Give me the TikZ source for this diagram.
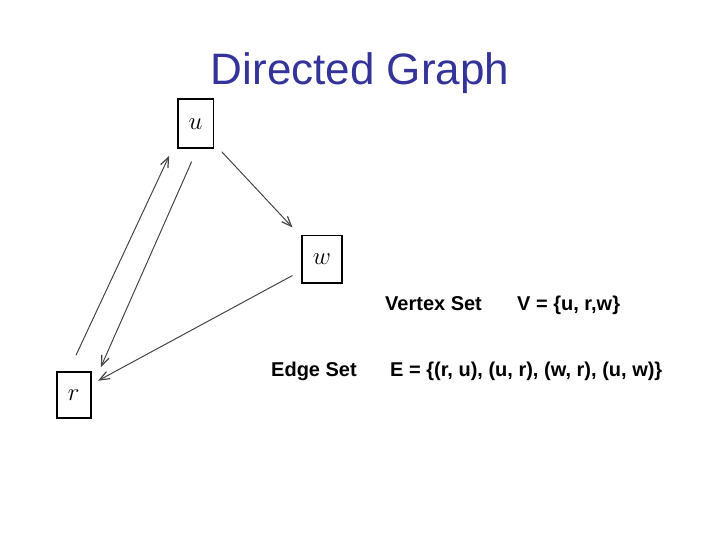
\documentclass[tikz,border=0pt]{standalone}
\usepackage{fontspec}
\setmainfont{Liberation Sans}
\usetikzlibrary{arrows.meta}
\definecolor{titleblue}{RGB}{51,51,153}
\definecolor{edgegray}{RGB}{70,70,70}
\tikzset{
  vbox/.style={draw=black, line width=1.6pt, inner sep=0pt, font=\fontsize{24}{24}\selectfont},
  arr/.style={draw=edgegray, line width=1pt, -{Straight Barb[length=10pt,width=8pt,line width=1.2pt]}},
  lbl/.style={anchor=base west, inner sep=0pt, font=\fontsize{20}{24}\selectfont\bfseries}
}
\begin{document}
\begin{tikzpicture}[x=1pt,y=1pt]
\useasboundingbox (0,0) rectangle (720,540);
\node[anchor=base, inner sep=0pt, text=titleblue, font=\fontsize{44}{50}\selectfont] (title) at (360,455) {Directed Graph};
\node[vbox, minimum width=35.6pt, minimum height=49pt] (u) at (195.5,416.2) {$u$};
\node[vbox, minimum width=40pt, minimum height=47.6pt] (w) at (322,280.5) {$w$};
\node[vbox, minimum width=34pt, minimum height=46pt] (r) at (73.7,144.7) {$r$};
\draw[arr] ([shift={(2.3pt,16.3pt)}]r.north) -- ([shift={(-7.7pt,-6.7pt)}]u.south west);
\draw[arr] ([shift={(-3.8pt,-12.4pt)}]u.south) -- ([shift={(9.3pt,4.3pt)}]r.north east);
\draw[arr] ([shift={(7.7pt,-2.7pt)}]u.south east) -- ([shift={(-8.7pt,7.4pt)}]w.north west);
\draw[arr] ([shift={(-8.7pt,-16pt)}]w.west) -- ([shift={(6.6pt,14.6pt)}]r.east);
\node[lbl] (vs) at (385,229) {Vertex Set};
\node[lbl] (vset) at (517,229) {V = \{u, r,w\}};
\node[lbl] (es) at (271,163) {Edge Set};
\node[lbl] (eset) at (390,163) {E = \{(r, u), (u, r), (w, r), (u, w)\}};
\end{tikzpicture}
\end{document}
